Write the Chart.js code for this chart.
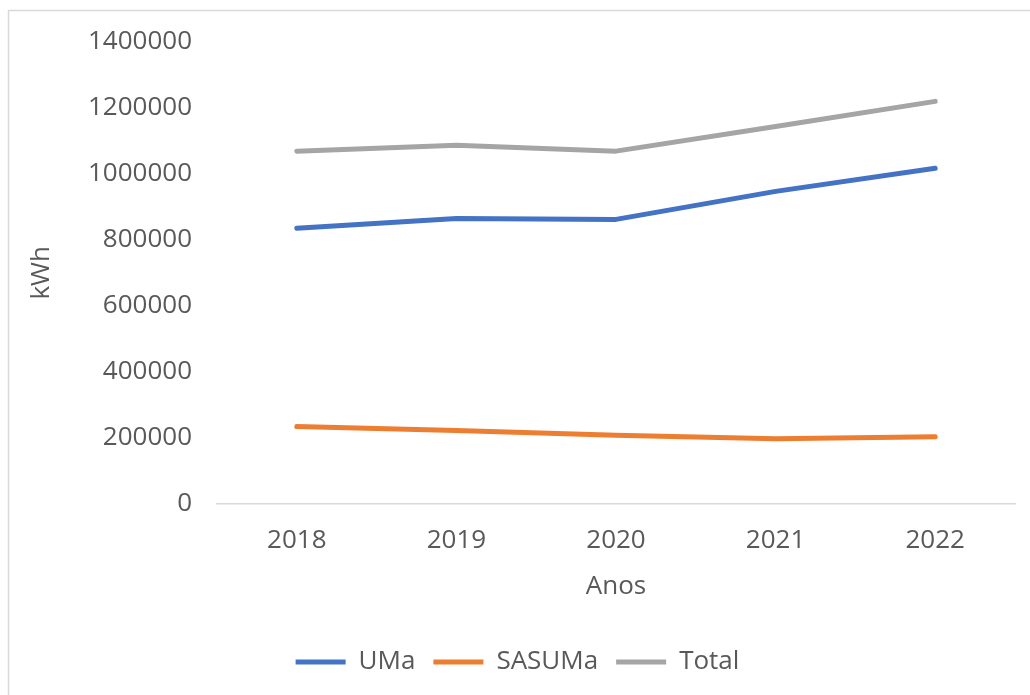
<!DOCTYPE html>
<html>
<head>
<meta charset="utf-8">
<script src="https://cdn.jsdelivr.net/npm/chart.js@4"></script>
<style>
html,body{margin:0;padding:0;background:#fff;}
#wrap{width:1030px;height:695px;}
</style>
</head>
<body>
<div id="wrap"><canvas id="c" width="1030" height="695"></canvas></div>
<script>
const categories = ['2018', '2019', '2020', '2021', '2022'];
const umaValues = [835000, 865000, 862000, 947000, 1017000];
const sasumaValues = [234000, 222000, 207000, 197000, 203000];
const totalValues = [1069000, 1087000, 1069000, 1144000, 1220000];
const seriesNames = ['UMa', 'SASUMa', 'Total'];
const yTicks = [0, 200000, 400000, 600000, 800000, 1000000, 1200000, 1400000];

const FONT = "'Open Sans', sans-serif";
const TXT = '#595959';

const framePlugin = {
  id: 'frame',
  beforeDraw(chart) {
    const ctx = chart.ctx;
    ctx.save();
    ctx.fillStyle = '#ffffff';
    ctx.fillRect(0, 0, chart.width, chart.height);
    ctx.strokeStyle = '#D9D9D9';
    ctx.lineWidth = 1.5;
    ctx.beginPath();
    ctx.moveTo(8.5, chart.height);
    ctx.lineTo(8.5, 10.5);
    ctx.lineTo(chart.width, 10.5);
    ctx.stroke();
    ctx.restore();
  }
};

const mk = (label, data, color) => ({
  label, data,
  borderColor: color, backgroundColor: color,
  borderWidth: 5, borderCapStyle: 'round', borderJoinStyle: 'round',
  pointRadius: 0, pointHoverRadius: 0, tension: 0, fill: false,
  pointStyle: 'line'
});

new Chart(document.getElementById('c'), {
  type: 'line',
  data: {
    labels: categories,
    datasets: [
      mk(seriesNames[0], umaValues, '#4472C4'),
      mk(seriesNames[1], sasumaValues, '#ED7D31'),
      mk(seriesNames[2], totalValues, '#A5A5A5')
    ]
  },
  plugins: [framePlugin],
  options: {
    responsive: false,
    animation: false,
    layout: { padding: { left: 20, right: 15, top: 42, bottom: 10 } },
    plugins: {
      tooltip: { enabled: false },
      legend: {
        position: 'bottom',
        labels: {
          usePointStyle: true,
          pointStyle: 'line',
          pointStyleWidth: 50,
          boxHeight: 26,
          padding: 18,
          color: TXT,
          font: { family: FONT, size: 26 }
        }
      }
    },
    scales: {
      x: {
        offset: true,
        grid: { display: false, drawTicks: false, offset: true },
        border: { display: true, color: '#D9D9D9', width: 1.5 },
        ticks: { color: TXT, padding: 21, font: { family: FONT, size: 26 }, maxRotation: 0 },
        title: { display: true, text: 'Anos', color: TXT, font: { family: FONT, size: 26 }, padding: { top: -6, bottom: 29 } }
      },
      y: {
        min: 0, max: 1400000,
        afterFit(scale) { scale.width = 197; },
        afterBuildTicks(scale) { scale.ticks = yTicks.map(v => ({ value: v })); },
        grid: { display: false, drawTicks: false },
        border: { display: false },
        ticks: { color: TXT, padding: 25, font: { family: FONT, size: 26 }, callback: (v) => String(v) },
        title: { display: true, text: 'kWh', color: TXT, font: { family: FONT, size: 26 }, padding: { top: 6, bottom: 4 } }
      }
    }
  }
});
</script>
</body>
</html>
